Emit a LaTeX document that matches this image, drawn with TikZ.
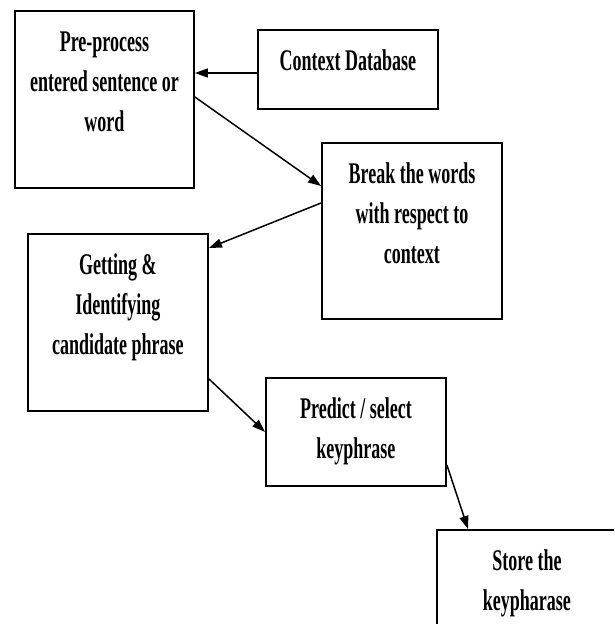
\documentclass[tikz,border=0pt]{standalone}
\usepackage{fontspec}
\setmainfont{Liberation Serif}[FakeStretch=0.6]
\usetikzlibrary{arrows.meta,calc}

\tikzset{
  stage/.style={draw, line width=1.9pt, inner sep=0pt, anchor=north west,
    font=\bfseries\fontsize{30}{40}\selectfont},
  flow/.style={-{Triangle[length=13pt,width=9pt]}, line width=1.5pt}
}
% box text: width, height, lines (top aligned)
\newcommand{\boxtext}[3]{\parbox[c][#2pt][t]{#1pt}{\centering\rule{0pt}{41pt}#3\par}}

\begin{document}
\begin{tikzpicture}[x=1pt, y=-1pt]
    \clip (0,0) rectangle (614,624);

    % Stages
    \node[stage] (pre) at (14,10) {\boxtext{179}{177}{Pre-process\\entered sentence or\\word}};
    \node[stage] (ctx) at (257,29) {\boxtext{180}{79}{Context Database}};
    \node[stage] (brk) at (321,142) {\boxtext{180}{176}{Break the words\\with respect to\\context}};
    \node[stage] (get) at (27,233) {\boxtext{180}{177}{Getting \&\\Identifying\\candidate phrase}};
    \node[stage] (pred) at (265,377) {\boxtext{180}{108}{Predict / select\\keyphrase}};
    \node[stage] (store) at (436,529) {\boxtext{180}{120}{Store the\\keypharase}};

    % Flow
    \draw[flow] ($(ctx.north west)+(0,44)$) -- ($(pre.north east)+(0,63)$);
    \draw[flow] ($(pre.north east)+(0,87)$) -- ($(brk.north west)+(0,44)$);
    \draw[flow] ($(brk.north west)+(0,61)$) -- ($(get.north east)+(0,15)$);
    \draw[flow] ($(get.south east)+(0,-33)$) -- (pred.west);
    \draw[flow] ($(pred.south east)+(0,-22)$) -- ($(store.north west)+(32,0)$);
\end{tikzpicture}
\end{document}
